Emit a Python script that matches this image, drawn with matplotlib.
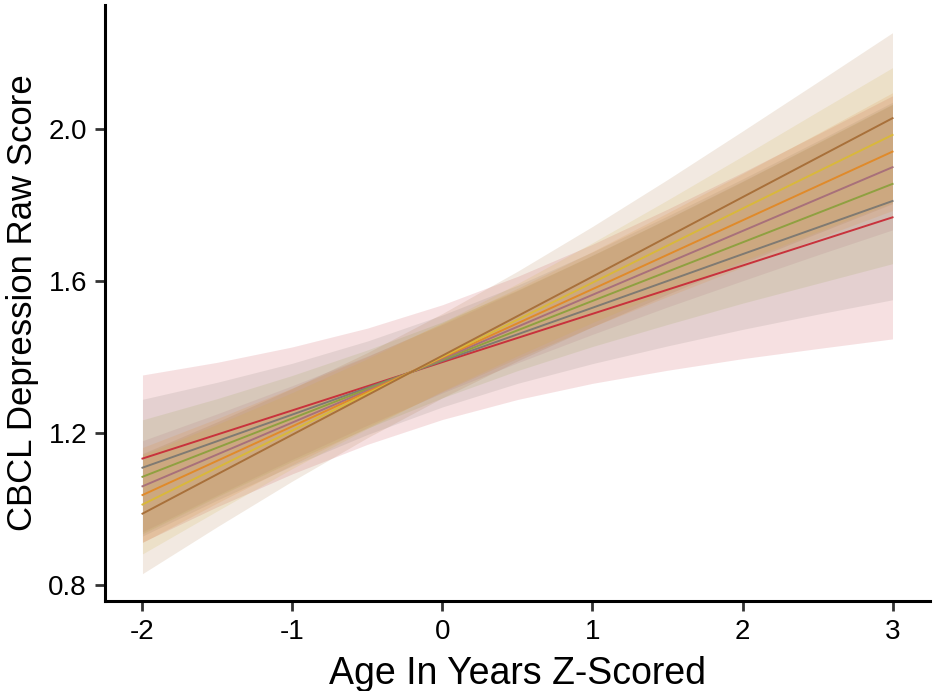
import matplotlib
matplotlib.use("Agg")
import matplotlib.pyplot as plt
import numpy as np

plt.rcParams['font.family'] = ['Liberation Sans', 'DejaVu Sans']

# age grid (z-scored) where values were read
age = [-2, -1.5, -1, -0.5, 0, 0.5, 1, 1.5, 2, 2.5, 3]

# predicted score for each moderator level
fit_red = [1.132, 1.1955, 1.259, 1.3225, 1.386, 1.4495, 1.513, 1.5765, 1.640, 1.7035, 1.767]
fit_gray = [1.108, 1.178, 1.248, 1.3185, 1.389, 1.459, 1.529, 1.5995, 1.670, 1.740, 1.810]
fit_green = [1.084, 1.161, 1.238, 1.315, 1.392, 1.4695, 1.547, 1.624, 1.701, 1.778, 1.855]
fit_mauve = [1.059, 1.143, 1.227, 1.311, 1.395, 1.479, 1.563, 1.647, 1.731, 1.815, 1.899]
fit_orange = [1.036, 1.1265, 1.217, 1.3075, 1.398, 1.488, 1.578, 1.6685, 1.759, 1.8495, 1.940]
fit_yellow = [1.011, 1.1085, 1.206, 1.303, 1.400, 1.4975, 1.595, 1.6925, 1.790, 1.887, 1.984]
fit_brown = [0.987, 1.091, 1.195, 1.299, 1.403, 1.507, 1.611, 1.7155, 1.820, 1.924, 2.028]

# half width of the confidence ribbons
ci_red = [0.220, 0.190, 0.167, 0.153, 0.151, 0.162, 0.183, 0.212, 0.245, 0.282, 0.320]
ci_gray = [0.180, 0.155, 0.135, 0.123, 0.121, 0.129, 0.147, 0.171, 0.198, 0.228, 0.260]
ci_green = [0.150, 0.129, 0.113, 0.103, 0.100, 0.106, 0.120, 0.139, 0.160, 0.185, 0.210]
ci_mauve = [0.120, 0.107, 0.097, 0.091, 0.090, 0.095, 0.104, 0.116, 0.131, 0.147, 0.165]
ci_orange = [0.125, 0.111, 0.101, 0.093, 0.090, 0.092, 0.099, 0.110, 0.123, 0.138, 0.155]
ci_yellow = [0.130, 0.114, 0.100, 0.092, 0.090, 0.095, 0.105, 0.120, 0.138, 0.158, 0.177]
ci_brown = [0.158, 0.138, 0.122, 0.112, 0.111, 0.118, 0.132, 0.151, 0.174, 0.199, 0.225]

fits = [fit_red, fit_gray, fit_green, fit_mauve, fit_orange, fit_yellow, fit_brown]
cis = [ci_red, ci_gray, ci_green, ci_mauve, ci_orange, ci_yellow, ci_brown]
colors = ['#c8323c', '#7f7a72', '#8fa040', '#a8707a', '#e08a2a', '#d9b83a', '#a8703a']

fig = plt.figure(figsize=(9.33, 6.91), dpi=100)
ax = fig.add_axes([0.1125, 0.1302, 0.8843, 0.8626])

for fit, ci, c in zip(fits, cis, colors):
    fit = np.array(fit)
    ci = np.array(ci)
    ax.fill_between(age, fit - ci, fit + ci, color=c, alpha=0.15, linewidth=0)

for fit, c in zip(fits, colors):
    ax.plot(age, fit, color=c, linewidth=1.4)

ax.set_xlim(-2.25, 3.25)
ax.set_ylim(0.757, 2.326)
ax.set_xticks([-2, -1, 0, 1, 2, 3])
ax.set_xticklabels(['-2', '-1', '0', '1', '2', '3'])
ax.set_yticks([0.8, 1.2, 1.6, 2.0])
ax.set_yticklabels(['0.8', '1.2', '1.6', '2.0'])

for s in ['top', 'right']:
    ax.spines[s].set_visible(False)
for s in ['left', 'bottom']:
    ax.spines[s].set_linewidth(2.2)
    ax.spines[s].set_color('black')
ax.tick_params(axis='both', length=7, width=2, color='#333333',
               labelsize=20, labelcolor='black', pad=6)

ax.set_xlabel('Age In Years Z-Scored', fontsize=27, labelpad=8)
ax.set_ylabel('CBCL Depression Raw Score', fontsize=25, labelpad=7)

fig.savefig('out.png', dpi=100)
